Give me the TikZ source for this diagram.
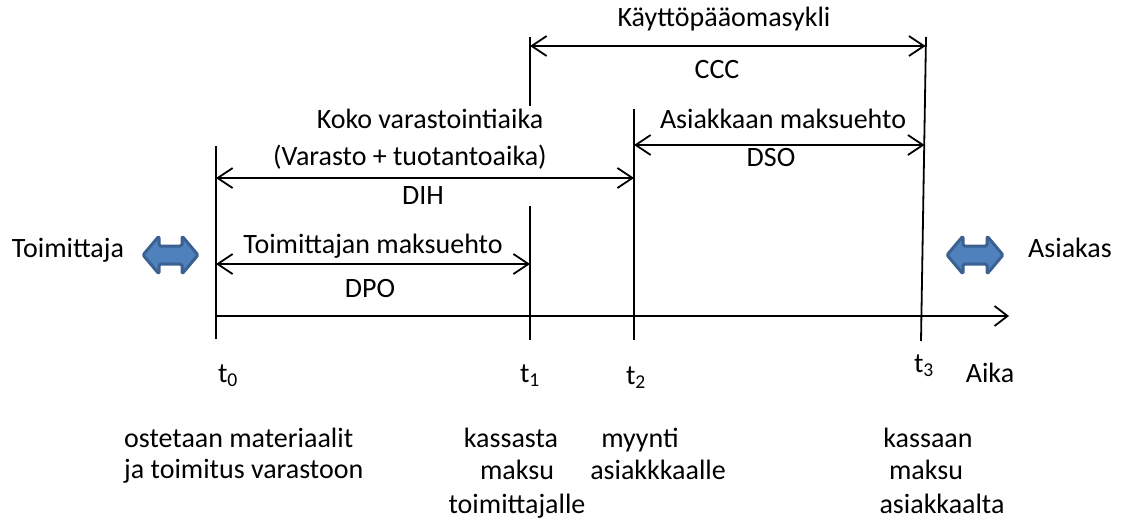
\documentclass[tikz,border=0pt]{standalone}
\usepackage{fontspec}
\setmainfont{Carlito}
\usetikzlibrary{arrows.meta}
\definecolor{arrfill}{HTML}{4F81BD}
\definecolor{arrdraw}{HTML}{3A6191}
\begin{document}
\begin{tikzpicture}[x=1pt,y=-1pt,
  lbl/.style={font=\fontsize{28}{33}\selectfont, inner sep=0pt, text height=18pt, text depth=6pt},
  tick/.style={line width=1.8pt},
  dimarr/.style={line width=1.8pt, {Straight Barb[length=15pt,width=20pt,line width=1.8pt]}-{Straight Barb[length=15pt,width=20pt,line width=1.8pt]}},
  axisarr/.style={line width=1.8pt, -{Straight Barb[length=13pt,width=20pt,line width=1.8pt]}},
  blockarr/.style={fill=arrfill, draw=arrdraw, line width=3pt, line join=round, rounded corners=1.5pt}
]
\useasboundingbox (0,0) rectangle (1121,522);
% coordinates
\coordinate (t0top) at (216,146);
\coordinate (t0bot) at (216,339);
\coordinate (t1top) at (530,37);
\coordinate (t1mid) at (530,106);
\coordinate (t1low) at (530,206);
\coordinate (t1bot) at (530,340);
\coordinate (t2top) at (634,109);
\coordinate (t2bot) at (634,340);
\coordinate (t3top) at (926,37);
\coordinate (t3bot) at (921,341);
\coordinate (ax0) at (216,316);
\coordinate (ax1) at (1009,316);
% ticks
\draw[tick] (t0top) -- (t0bot);
\draw[tick] (t1top) -- (t1mid);
\draw[tick] (t1low) -- (t1bot);
\draw[tick] (t2top) -- (t2bot);
\draw[tick] (t3top) -- (t3bot);
% dimension arrows
\coordinate (ccc0) at (530,46);
\coordinate (ccc1) at (925.6,46);
\draw[dimarr] (ccc0) -- (ccc1);
\coordinate (dso0) at (634,145);
\coordinate (dso1) at (924.6,145);
\draw[dimarr] (dso0) -- (dso1);
\coordinate (dih0) at (216,178);
\coordinate (dih1) at (634,178);
\draw[dimarr] (dih0) -- (dih1);
\coordinate (dpo0) at (216,264);
\coordinate (dpo1) at (530,264);
\draw[dimarr] (dpo0) -- (dpo1);
% axis
\draw[axisarr] (ax0) -- (ax1);
% labels
\node[lbl] (kpo) at (724,20) {Käyttöpääomasykli};
\node[lbl] (ccc) at (717,72) {CCC};
\node[lbl] (am) at (783,122) {Asiakkaan maksuehto};
\node[lbl] (dso) at (771,160) {DSO};
\node[lbl] (kv) at (430,122) {Koko varastointiaika};
\node[lbl] (vt) at (410,159) {(Varasto + tuotantoaika)};
\node[lbl] (dih) at (423,198) {DIH};
\node[lbl] (tm) at (373,247) {Toimittajan maksuehto};
\node[lbl] (dpo) at (370,291) {DPO};
\node[lbl] (toim) at (68,251) {Toimittaja};
\node[lbl] (asi) at (1070,251) {Asiakas};
\node[lbl] (l0) at (228,376) {t\textsubscript{0}};
\node[lbl] (l1) at (530,376) {t\textsubscript{1}};
\node[lbl] (l2) at (636,378) {t\textsubscript{2}};
\node[lbl] (l3) at (924,366) {t\textsubscript{3}};
\node[lbl] (aika) at (990,376) {Aika};
% bottom texts
\node[lbl, anchor=west] (b1) at (124,441) {ostetaan materiaalit};
\node[lbl, anchor=west] (b2) at (124,472) {ja toimitus varastoon};
\node[lbl] (c1) at (511,441) {kassasta};
\node[lbl] (c2) at (517,473) {maksu};
\node[lbl] (c3) at (517,507) {toimittajalle};
\node[lbl] (d1) at (640,441) {myynti};
\node[lbl] (d2) at (658,473) {asiakkkaalle};
\node[lbl] (e1) at (928,441) {kassaan};
\node[lbl] (e2) at (926,473) {maksu};
\node[lbl] (e3) at (942,507) {asiakkaalta};
% block double arrows
\draw[blockarr] (143,255) -- (159,236) -- (159,246) -- (182,246) -- (182,236) -- (198,255)
  -- (182,274) -- (182,264) -- (159,264) -- (159,274) -- cycle;
\draw[blockarr] (947,255) -- (963,236) -- (963,246) -- (987,246) -- (987,236) -- (1003,255)
  -- (987,274) -- (987,264) -- (963,264) -- (963,274) -- cycle;
\end{tikzpicture}
\end{document}
